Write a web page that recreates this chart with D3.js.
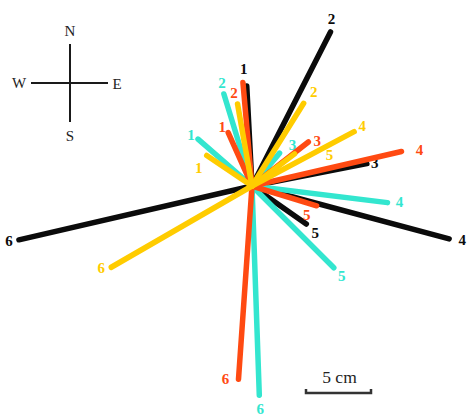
<!DOCTYPE html>
<html>
<head>
<meta charset="utf-8">
<script src="https://cdn.jsdelivr.net/npm/d3@7"></script>
<style>
  html, body { margin: 0; padding: 0; background: #fff; }
  svg { display: block; }
</style>
</head>
<body>
<svg id="chart" width="470" height="419"></svg>
<script>
// Segment labels, shared by every series
const segments = ["1", "2", "3", "4", "5", "6"];

// Azimuth of each segment (degrees clockwise from north)
const blackAzimuth  = [357, 27, 79, 105, 125, 257];
const redAzimuth    = [336, 355, 52, 77, 107, 184];
const cyanAzimuth   = [311, 343, 40, 97, 135, 178];
const yellowAzimuth = [304, 32, 350, 62, 53, 240];

// Length of each segment (cm)
const blackLength  = [7.7, 13.3, 9.0, 15.7, 5.1, 18.4];
const redLength    = [4.5, 8.0, 5.5, 11.8, 5.2, 14.9];
const cyanLength   = [5.5, 7.4, 3.3, 10.5, 8.9, 16.1];
const yellowLength = [4.2, 7.5, 6.4, 8.9, 4.1, 12.5];

// Which segment labels are printed
const yellowShown = [true, true, false, true, true, true];

// Scale bar length (cm)
const scaleBarCm = 5;

// Label nudges from each segment tip, in pixels
const blackNudge  = [[-3,-17],[1,-13],[8,-1],[13,1],[9,9],[-10,1]];
const redNudge    = [[-6,-6],[-9,11],[9,-1],[18,-2],[-10,9],[-13,0]];
const cyanNudge   = [[-7,-4],[-2,-11],[13,-8],[12,-1],[8,8],[1,14]];
const yellowNudge = [[-8,13],[10,-11],[0,0],[8,-6],[35,1],[-10,1]];

const series = [
  { color: "#0b0b0b", az: blackAzimuth,  len: blackLength,  nudge: blackNudge,  shown: [true,true,true,true,true,true] },
  { color: "#33e6cf", az: cyanAzimuth,   len: cyanLength,   nudge: cyanNudge,   shown: [true,true,true,true,true,true] },
  { color: "#ff4a12", az: redAzimuth,    len: redLength,    nudge: redNudge,    shown: [true,true,true,true,true,true] },
  { color: "#ffcc00", az: yellowAzimuth, len: yellowLength, nudge: yellowNudge, shown: yellowShown }
];

const serif = "'Liberation Serif', 'Times New Roman', Times, serif";

const svg = d3.select("#chart");
const cx = 252, cy = 186;

// Radial scale: centimetres to pixels
const r = d3.scaleLinear().domain([0, 5]).range([0, 65]);
const toRad = d => d * Math.PI / 180;

const radial = d3.lineRadial()
  .angle(d => toRad(d.az))
  .radius(d => r(d.len));

const plot = svg.append("g").attr("transform", `translate(${cx},${cy})`);

series.forEach(s => {
  const g = plot.append("g");
  const rows = segments.map((name, i) => ({ name, az: s.az[i], len: s.len[i], nudge: s.nudge[i], shown: s.shown[i] }));

  g.selectAll("path")
    .data(rows)
    .join("path")
    .attr("d", d => radial([{ az: d.az, len: 0 }, { az: d.az, len: d.len }]))
    .attr("fill", "none")
    .attr("stroke", s.color)
    .attr("stroke-width", 5.5)
    .attr("stroke-linecap", "round");

  g.selectAll("text")
    .data(rows.filter(d => d.shown))
    .join("text")
    .attr("x", d => d3.pointRadial(toRad(d.az), r(d.len))[0] + d.nudge[0])
    .attr("y", d => d3.pointRadial(toRad(d.az), r(d.len))[1] + d.nudge[1])
    .attr("text-anchor", "middle")
    .attr("dominant-baseline", "central")
    .style("font-family", serif)
    .attr("font-weight", "bold")
    .attr("font-size", 15)
    .attr("fill", s.color)
    .text(d => d.name);
});

// Compass
const compass = svg.append("g").attr("transform", "translate(70,83)");
compass.append("line").attr("x1", 0).attr("y1", -39).attr("x2", 0).attr("y2", 39)
  .attr("stroke", "#1a1a1a").attr("stroke-width", 2);
compass.append("line").attr("x1", -39).attr("y1", 0).attr("x2", 38).attr("y2", 0)
  .attr("stroke", "#1a1a1a").attr("stroke-width", 2);
const dirs = [
  { t: "N", x: 0, y: -52 },
  { t: "S", x: 0, y: 53 },
  { t: "W", x: -51, y: 0 },
  { t: "E", x: 47, y: 1 }
];
compass.selectAll("text")
  .data(dirs)
  .join("text")
  .attr("x", d => d.x)
  .attr("y", d => d.y)
  .attr("text-anchor", "middle")
  .attr("dominant-baseline", "central")
  .style("font-family", serif)
  .attr("font-size", 15)
  .attr("fill", "#222")
  .text(d => d.t);

// Scale bar
const bx = 306, by = 393;
const bw = r(scaleBarCm);
svg.append("path")
  .attr("d", `M${bx},${by - 4}V${by}H${bx + bw}V${by - 4}`)
  .attr("fill", "none")
  .attr("stroke", "#333")
  .attr("stroke-width", 2.5);
svg.append("text")
  .attr("x", bx + bw / 2 + 1)
  .attr("y", by - 16)
  .attr("text-anchor", "middle")
  .attr("dominant-baseline", "central")
  .style("font-family", serif)
  .attr("font-size", 17.5)
  .attr("fill", "#222")
  .text(`${scaleBarCm} cm`);
</script>
</body>
</html>
